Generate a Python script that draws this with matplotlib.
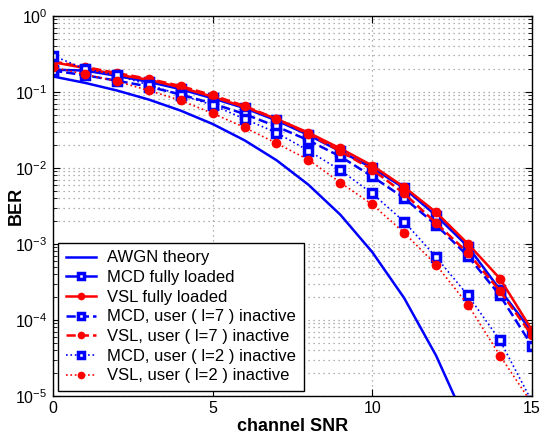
import numpy as np
import matplotlib
matplotlib.use('Agg')
import matplotlib.pyplot as plt
from matplotlib.ticker import LogLocator, NullFormatter, FuncFormatter

plt.rcParams['font.family'] = ['Liberation Sans', 'DejaVu Sans']
plt.rcParams['mathtext.fontset'] = 'custom'
plt.rcParams['mathtext.rm'] = 'Liberation Sans'
plt.rcParams['mathtext.it'] = 'Liberation Sans:italic'
plt.rcParams['mathtext.bf'] = 'Liberation Sans:bold'

snr = [0, 1, 2, 3, 4, 5, 6, 7, 8, 9, 10, 11, 12, 13, 14, 15]
snr_awgn = [0, 1, 2, 3, 4, 5, 6, 7, 8, 9, 10, 11, 12, 13]

awgn = [0.159, 0.131, 0.104, 0.079, 0.0565, 0.0377, 0.023, 0.0126, 0.006,
        0.00242, 7.8e-4, 1.94e-4, 3.4e-5, 4.0e-6]
mcd_full = [0.195, 0.19, 0.162, 0.135, 0.108, 0.082, 0.061, 0.042, 0.027,
            0.0165, 0.0100, 0.0054, 0.00235, 9.2e-4, 2.5e-4, 7.0e-5]
vsl_full = [0.245, 0.205, 0.168, 0.144, 0.114, 0.086, 0.063, 0.044, 0.029,
            0.018, 0.0107, 0.0056, 0.0026, 1.0e-3, 3.5e-4, 7.4e-5]
mcd_l7 = [0.19, 0.165, 0.14, 0.117, 0.092, 0.070, 0.051, 0.035, 0.023,
          0.0141, 0.0077, 0.0040, 0.00178, 6.9e-4, 2.1e-4, 4.6e-5]
vsl_l7 = [0.25, 0.212, 0.176, 0.148, 0.119, 0.090, 0.065, 0.044, 0.028,
          0.0165, 0.0095, 0.0046, 0.00188, 7.6e-4, 2.4e-4, 6.3e-5]
mcd_l2 = [0.298, 0.2, 0.165, 0.123, 0.091, 0.067, 0.044, 0.029, 0.0168,
          0.0093, 0.0046, 0.00196, 6.7e-4, 2.1e-4, 5.4e-5, 8.5e-6]
vsl_l2 = [0.21, 0.17, 0.137, 0.104, 0.077, 0.052, 0.034, 0.021, 0.0128,
          0.0064, 0.0033, 0.0014, 5.3e-4, 1.58e-4, 3.4e-5, 8.0e-6]

fig = plt.figure(figsize=(5.41, 4.37), dpi=100)
ax = fig.add_axes([0.098, 0.094, 0.885, 0.870])

blue = '#0000ff'
red = '#ff0000'
sq = dict(marker='s', markersize=5.5, markerfacecolor='white', markeredgewidth=2.5)
ci = dict(marker='o', markersize=6, markeredgewidth=1)

ax.semilogy(snr_awgn, awgn, '-', color=blue, lw=1.8, label='AWGN theory')
ax.semilogy(snr, mcd_full, '-', color=blue, lw=1.8, markeredgecolor=blue, **sq, label='MCD fully loaded')
ax.semilogy(snr, vsl_full, '-', color=red, lw=1.8, **ci, label='VSL fully loaded')
ax.semilogy(snr, mcd_l7, '--', color=blue, lw=1.8, markeredgecolor=blue, **sq, label='MCD, user ( l=7 ) inactive')
ax.semilogy(snr, vsl_l7, '--', color=red, lw=1.8, **ci, label='VSL, user ( l=7 ) inactive')
ax.semilogy(snr, mcd_l2, ':', color=blue, lw=1.2, markeredgecolor=blue, **sq, label='MCD, user ( l=2 ) inactive')
ax.semilogy(snr, vsl_l2, ':', color=red, lw=1.2, **ci, label='VSL, user ( l=2 ) inactive')

ax.set_xlim(0, 15)
ax.set_ylim(1e-5, 1)
ax.set_xticks([0, 5, 10, 15])
ax.yaxis.set_major_locator(LogLocator(base=10, numticks=10))
ax.yaxis.set_major_formatter(FuncFormatter(lambda v, p: r'$\mathregular{10^{%d}}$' % round(np.log10(v))))
ax.yaxis.set_minor_locator(LogLocator(base=10, subs=np.arange(2, 10), numticks=100))
ax.yaxis.set_minor_formatter(NullFormatter())
ax.tick_params(direction='in', which='both', top=True, right=True, labelsize=11.5, pad=4)
ax.tick_params(which='major', length=5)
ax.tick_params(which='minor', length=3)
ax.grid(True, which='major', linestyle=(0, (1, 3)), color='#999999', lw=0.9)
ax.grid(True, which='minor', axis='y', linestyle=(0, (1, 3)), color='#999999', lw=0.9)
for s in ax.spines.values():
    s.set_linewidth(1.0)

ax.set_xlabel('channel SNR', fontsize=13, fontweight='bold', labelpad=1)
ax.set_ylabel('BER', fontsize=13, fontweight='bold')
ax.yaxis.set_label_coords(-0.058, 0.5)

leg = ax.legend(loc='lower left', fontsize=12, fancybox=False, framealpha=1,
                edgecolor='black', handlelength=1.8, borderaxespad=0.3,
                labelspacing=0.28, borderpad=0.45, handletextpad=0.7, markerscale=0.75)
leg.get_frame().set_linewidth(1.0)

fig.savefig('out.png', dpi=100)
